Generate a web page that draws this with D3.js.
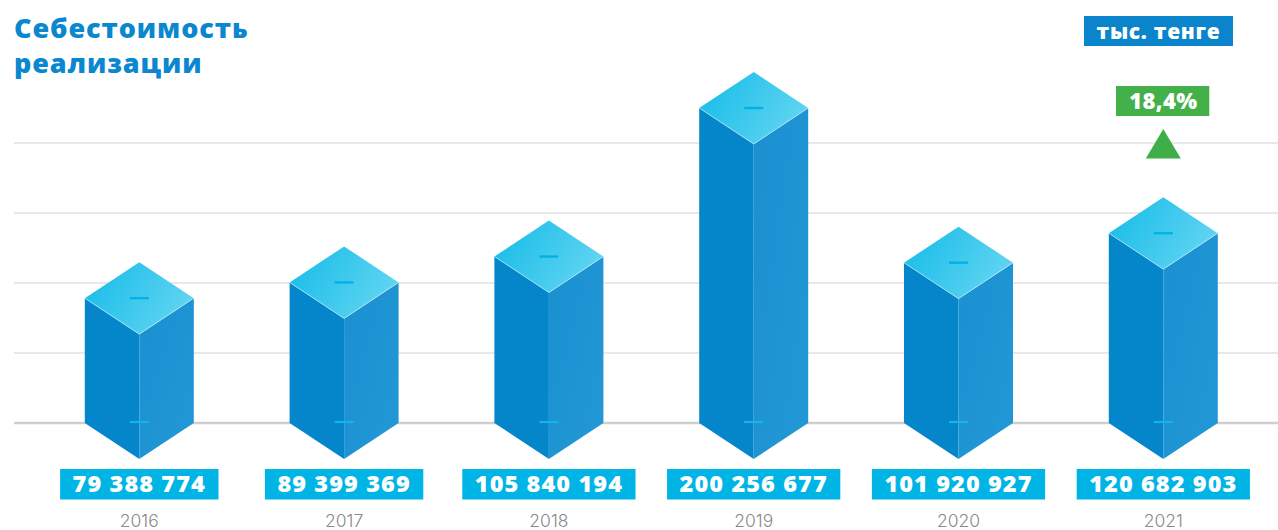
<!DOCTYPE html>
<html><head><meta charset="utf-8">
<script src="https://cdn.jsdelivr.net/npm/d3@7"></script>
<style>
html,body{margin:0;padding:0;background:#fff;}
svg{display:block;}
</style></head>
<body>
<svg id="chart" width="1278" height="530"></svg>
<script>
const years = ["2016","2017","2018","2019","2020","2021"];
const values = [79388774, 89399369, 105840194, 200256677, 101920927, 120682903];
const valueLabels = ["79 388 774","89 399 369","105 840 194","200 256 677","101 920 927","120 682 903"];
const titleLines = ["Себестоимость","реализации"];
const unitLabel = "тыс. тенге";
const changeLabel = "18,4%";

const W = 1278, H = 530;
const base = 423, halfW = 54.5, halfD = 36;
const svg = d3.select("#chart");
const font = "'Open Sans', Inter, sans-serif";

const x = d3.scalePoint().domain(years).range([139.3, 1163.3]);
const y = d3.scaleLinear().domain([0, 250e6]).range([base, base - 393.2]);
const g = d3.scaleLinear().domain([0, 4]).range([base, 143]);

const defs = svg.append("defs");
const tg = defs.append("linearGradient").attr("id","topG").attr("x1","0").attr("y1","0.3").attr("x2","1").attr("y2","0.7");
tg.append("stop").attr("offset","0").attr("stop-color","#1bbde9");
tg.append("stop").attr("offset","1").attr("stop-color","#64d6f2");
const rg = defs.append("linearGradient").attr("id","rightG").attr("x1","0").attr("y1","0").attr("x2","1").attr("y2","1");
rg.append("stop").attr("offset","0").attr("stop-color","#1b90d1");
rg.append("stop").attr("offset","1").attr("stop-color","#2398d6");

// grid lines
svg.append("g").selectAll("line").data(d3.range(1,5)).join("line")
  .attr("x1",14).attr("x2",W).attr("y1",d=>g(d)).attr("y2",d=>g(d))
  .attr("stroke","#e8e8ea").attr("stroke-width",2.2);
svg.append("line").attr("x1",14).attr("x2",W).attr("y1",g(0)).attr("y2",g(0))
  .attr("stroke","#cfcfd1").attr("stroke-width",2.4);

// bars
const bars = svg.append("g").selectAll("g").data(years).join("g");
bars.each(function(yr,i){
  const gg = d3.select(this);
  const cx = x(yr), ty = y(values[i]);
  gg.append("path").attr("fill","#0586cb")
    .attr("d",`M${cx-halfW},${ty}L${cx},${ty+halfD}L${cx},${base+halfD}L${cx-halfW},${base}Z`);
  gg.append("path").attr("fill","url(#rightG)")
    .attr("d",`M${cx},${ty+halfD}L${cx+halfW},${ty}L${cx+halfW},${base}L${cx},${base+halfD}Z`);
  gg.append("path").attr("fill","url(#topG)")
    .attr("d",`M${cx},${ty-halfD}L${cx+halfW},${ty}L${cx},${ty+halfD}L${cx-halfW},${ty}Z`);
  gg.append("path").attr("fill","none").attr("stroke","rgba(255,255,255,0.45)").attr("stroke-width",1)
    .attr("d",`M${cx-halfW},${ty}L${cx},${ty+halfD}L${cx+halfW},${ty}`);
  gg.append("line").attr("x1",cx-9.5).attr("x2",cx+9.5).attr("y1",ty).attr("y2",ty)
    .attr("stroke","#00b2e5").attr("stroke-width",2.4);
  gg.append("line").attr("x1",cx-9.5).attr("x2",cx+9.5).attr("y1",base-1).attr("y2",base-1)
    .attr("stroke","#17b3e6").attr("stroke-width",2.2);
  // value label
  const t = gg.append("text").attr("x",cx).attr("y",484).attr("dy","0.36em")
    .attr("text-anchor","middle").attr("fill","#fff")
    .style("font-family",font).style("font-weight",800).style("font-size","23.5px")
    .style("letter-spacing","1.1px")
    .text(valueLabels[i]);
  const tw = t.node().getComputedTextLength();
  gg.insert("rect","text").attr("x",cx-tw/2-12.5).attr("y",469).attr("width",tw+25).attr("height",30.5)
    .attr("fill","#00b5e6");
  gg.append("text").attr("x",cx).attr("y",527).attr("text-anchor","middle")
    .attr("fill","#8a8a8a").style("font-family","Inter, sans-serif").style("font-weight",300).style("font-size","17.5px")
    .text(yr);
});

// title
svg.append("g").selectAll("text").data(titleLines).join("text")
  .attr("x",14).attr("y",(d,i)=>38+i*35)
  .attr("fill","#0a87cf").style("font-family",font).style("font-weight",800).style("font-size","27px")
  .style("letter-spacing","0.9px")
  .text(d=>d);

// unit badge
svg.append("rect").attr("x",1084).attr("y",16).attr("width",149).attr("height",30).attr("fill","#0a85cc");
svg.append("text").attr("x",1158.5).attr("y",31).attr("dy","0.36em").attr("text-anchor","middle")
  .attr("fill","#fff").style("font-family",font).style("font-weight",800).style("font-size","21px")
  .style("letter-spacing","0.7px").text(unitLabel);

// change badge
const lastX = x(years[years.length-1]);
svg.append("rect").attr("x",lastX-47.3).attr("y",86).attr("width",93.3).attr("height",30).attr("fill","#43b04a");
svg.append("text").attr("x",lastX).attr("y",101).attr("dy","0.36em").attr("text-anchor","middle")
  .attr("fill","#fff").style("font-family",font).style("font-weight",800).style("font-size","22px")
  .style("letter-spacing","0.4px").text(changeLabel);
svg.append("path").attr("fill","#3fae48")
  .attr("d",`M${lastX},129L${lastX+17.5},158.5L${lastX-17.5},158.5Z`);
</script>
</body></html>
